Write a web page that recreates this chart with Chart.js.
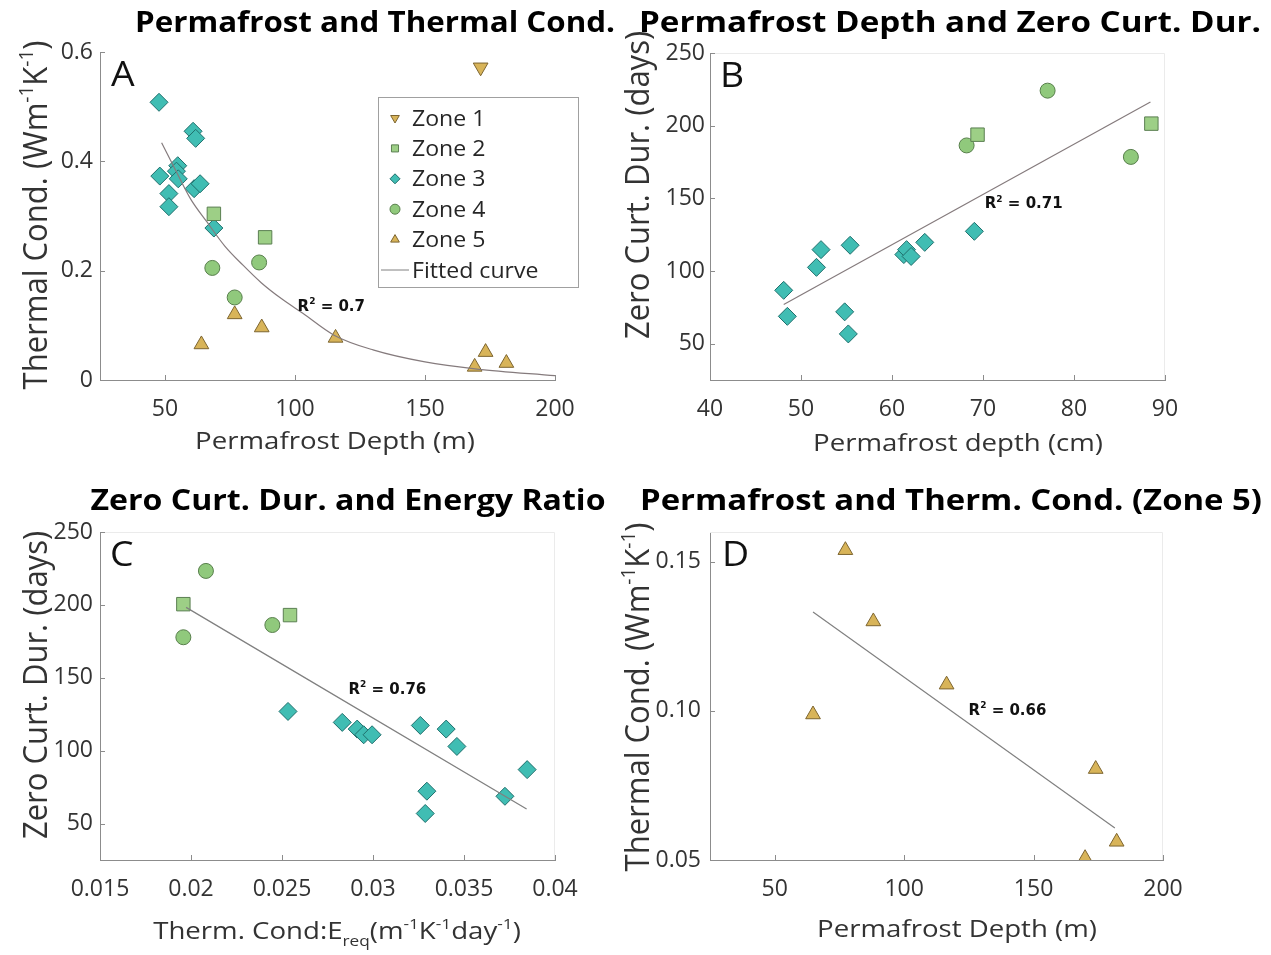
<!DOCTYPE html>
<html>
<head>
<meta charset="utf-8">
<script src="https://cdn.jsdelivr.net/npm/chart.js@4.4.1/dist/chart.umd.min.js"></script>
<style>
  body { margin: 0; background: #fff; width: 1271px; height: 955px; position: relative; overflow: hidden; }
  .pane { position: absolute; }
</style>
</head>
<body>
<div class="pane" style="left:0;top:0;width:640px;height:477px"><canvas id="chartA"></canvas></div>
<div class="pane" style="left:600px;top:0;width:671px;height:477px"><canvas id="chartB"></canvas></div>
<div class="pane" style="left:0;top:477px;width:640px;height:478px"><canvas id="chartC"></canvas></div>
<div class="pane" style="left:600px;top:477px;width:671px;height:478px"><canvas id="chartD"></canvas></div>
<script>
// --- panel A: permafrost depth (m) vs thermal conductivity
const aZone1 = [[171.4, 0.572]];
const aZone2 = [[68.8, 0.304], [88.5, 0.261]];
const aZone3 = [[47.7, 0.508], [60.8, 0.455], [61.8, 0.442], [48.0, 0.373], [54.9, 0.392], [54.4, 0.382],
                [55.1, 0.368], [51.5, 0.341], [51.5, 0.317], [61.2, 0.350], [63.5, 0.359], [68.8, 0.278]];
const aZone4 = [[68.2, 0.205], [86.2, 0.215], [76.8, 0.151]];
const aZone5 = [[64.0, 0.065], [76.8, 0.120], [87.2, 0.096], [115.6, 0.077], [173.3, 0.051], [169.1, 0.024], [181.3, 0.031]];
const aCurve = [[48.7, 0.434], [55, 0.375], [60, 0.33], [66, 0.29], [73, 0.245], [80, 0.21], [87, 0.178],
                [95, 0.148], [103, 0.122], [115, 0.082], [130, 0.055], [150, 0.033], [170, 0.02], [200, 0.008]];
const aXTicks = [50, 100, 150, 200];
const aYTicks = [0, 0.2, 0.4, 0.6];
const aYLabels = ['0', '0.2', '0.4', '0.6'];

// --- panel B: permafrost depth (cm) vs zero curtain duration
const bZone2 = [[69.4, 193.8], [88.5, 201.4]];
const bZone3 = [[48.1, 86.7], [48.5, 68.8], [51.7, 102.5], [52.2, 114.7], [54.8, 71.9], [55.4, 117.7],
                [55.2, 56.7], [61.3, 111.3], [61.6, 114.7], [62.1, 110], [63.6, 119.7], [69.05, 127.3]];
const bZone4 = [[68.2, 186.4], [77.1, 224.1], [86.25, 178.5]];
const bFit = [[48.1, 76.9], [88.4, 216.3]];
const bXTicks = [40, 50, 60, 70, 80, 90];
const bYTicks = [50, 100, 150, 200, 250];

// --- panel C: energy ratio vs zero curtain duration
const cZone2 = [[0.01958, 200.5], [0.02544, 193]];
const cZone3 = [[0.02533, 126.9], [0.02831, 119.4], [0.02913, 114.8], [0.02949, 110.9], [0.02995, 110.9], [0.0326, 117.3],
                [0.03402, 114.8], [0.03461, 102.9], [0.03296, 72.2], [0.03287, 56.9], [0.03725, 68.7], [0.03847, 87]];
const cZone4 = [[0.02082, 223.3], [0.01958, 177.8], [0.02447, 186.2]];
const cFit = [[0.01973, 198.3], [0.03844, 60]];
const cXTicks = [0.015, 0.02, 0.025, 0.03, 0.035, 0.04];
const cXLabels = ['0.015', '0.02', '0.025', '0.03', '0.035', '0.04'];

// --- panel D: zone 5 only
const dZone5 = [[64.8, 0.0988], [77.3, 0.1539], [88.1, 0.130], [116.4, 0.1088], [174, 0.0805], [182.1, 0.0561], [169.9, 0.0506]];
const dFit = [[64.8, 0.1332], [181.4, 0.0607]];
const dXTicks = [50, 100, 150, 200];
const dYTicks = [0.05, 0.10, 0.15];
const dYLabels = ['0.05', '0.10', '0.15'];

const SANS = '"Open Sans", sans-serif';
const TXT = '#262626';

const STYLE = {
  zone1: { shape: 'triangle', rot: 180, r: 8.5, bg: '#d8b459', bd: '#7d6530' },
  zone2: { shape: 'rect', r: 9.5, bg: '#9dcf86', bd: '#5b7f52' },
  zone3: { shape: 'rectRot', r: 9, bg: '#40bdb3', bd: '#1f6f6c' },
  zone4: { shape: 'circle', r: 7.5, bg: '#90c97c', bd: '#587f4c' },
  zone5: { shape: 'triangle', r: 8.5, bg: '#d8b459', bd: '#7d6530' }
};

// text with superscript / subscript pieces: [text, 'sup' | 'sub' | undefined]
function drawRich(ctx, parts, x, y, o) {
  const fam = o.family || SANS, wt = o.weight || 'normal', fs = o.size;
  const fonts = parts.map(p => `${wt} ${p[1] ? Math.round(fs * 0.62) : fs}px ${fam}`);
  let total = 0;
  const widths = parts.map((p, i) => {
    ctx.font = fonts[i];
    const w = ctx.measureText(p[0]).width;
    total += w;
    return w;
  });
  let sx = o.sx || 1;
  if (o.fitWidth) sx = o.fitWidth / total;
  ctx.save();
  ctx.translate(x, y);
  if (o.rotate) ctx.rotate(-Math.PI / 2);
  ctx.scale(sx, o.sy || 1);
  ctx.fillStyle = o.color || TXT;
  ctx.textAlign = 'left';
  ctx.textBaseline = 'alphabetic';
  let cx = o.align === 'left' ? 0 : -total / 2;
  const base = fs * 0.36;
  parts.forEach((p, i) => {
    ctx.font = fonts[i];
    const dy = p[1] === 'sup' ? -fs * 0.42 : p[1] === 'sub' ? fs * 0.3 : 0;
    ctx.fillText(p[0], cx, base + dy);
    cx += widths[i];
  });
  ctx.restore();
}

function marker(ctx, st, x, y, r) {
  ctx.fillStyle = st.bg;
  ctx.strokeStyle = st.bd;
  ctx.lineWidth = 1;
  Chart.helpers.drawPoint(ctx, { pointStyle: st.shape, rotation: st.rot || 0, radius: r, borderWidth: 1 }, x, y);
}

const decor = {
  id: 'decor',
  afterDraw(chart, args, o) {
    const { ctx, chartArea: ca } = chart;
    const x = chart.scales.x, y = chart.scales.y;
    ctx.save();
    if (o.box) {
      ctx.strokeStyle = '#ebebeb';
      ctx.lineWidth = 1;
      ctx.beginPath();
      ctx.moveTo(ca.left, ca.top + 0.5);
      ctx.lineTo(ca.right - 0.5, ca.top + 0.5);
      ctx.lineTo(ca.right - 0.5, ca.bottom);
      ctx.stroke();
    }
    // inward tick marks, matlab style
    ctx.strokeStyle = '#8c8c8c';
    ctx.lineWidth = 1;
    ctx.beginPath();
    x.ticks.forEach(t => {
      const px = Math.round(x.getPixelForValue(t.value)) + 0.5;
      ctx.moveTo(px, ca.bottom);
      ctx.lineTo(px, ca.bottom - 5);
    });
    y.ticks.forEach(t => {
      const py = Math.round(y.getPixelForValue(t.value)) + 0.5;
      ctx.moveTo(ca.left, py);
      ctx.lineTo(ca.left + 5, py);
    });
    ctx.stroke();

    drawRich(ctx, [[o.title]], o.titlePos[0], o.titlePos[1], { size: 28, weight: 'bold', color: '#000', fitWidth: o.titleW });
    drawRich(ctx, [[o.letter]], ca.left + o.letterOff[0], ca.top + o.letterOff[1], { size: 34, align: 'left', color: '#111', sx: 1.1 });
    drawRich(ctx, o.xTitle, o.xTitlePos[0], o.xTitlePos[1], { size: 24, sx: 1.15, color: '#333' });
    drawRich(ctx, o.yTitle, o.yTitlePos[0], o.yTitlePos[1], { size: 31, rotate: true, color: '#333', sy: 1.08 });
    drawRich(ctx, [['R'], ['2', 'sup'], [' = ' + o.r2[2]]],
      x.getPixelForValue(o.r2[0]), y.getPixelForValue(o.r2[1]),
      { size: 15, weight: 'bold', family: '"DejaVu Sans", sans-serif', align: 'left', color: '#111' });

    if (o.legend) {
      const [x1, y1, x2, y2] = o.legend.box;
      ctx.fillStyle = '#fff';
      ctx.fillRect(x1, y1, x2 - x1, y2 - y1);
      ctx.strokeStyle = '#a0a0a0';
      ctx.strokeRect(x1 + 0.5, y1 + 0.5, x2 - x1, y2 - y1);
      o.legend.rows.forEach((row, i) => {
        const ry = y1 + 21 + i * 30.4;
        if (row[0] === 'line') {
          ctx.strokeStyle = '#808080';
          ctx.beginPath();
          ctx.moveTo(x1 + 3, ry);
          ctx.lineTo(x1 + 31, ry);
          ctx.stroke();
        } else {
          marker(ctx, STYLE[row[0]], x1 + 17, ry, 5);
        }
        drawRich(ctx, [[row[1]]], x1 + 34, ry, { size: 21, align: 'left', sx: 1.1, color: TXT });
      });
    }
    ctx.restore();
  }
};

function axis(min, max, vals, labels, fit, pad) {
  return {
    type: 'linear', min, max,
    afterBuildTicks: s => { s.ticks = vals.map(v => ({ value: v })); },
    afterFit: fit,
    ticks: {
      callback: v => labels[vals.indexOf(v)],
      color: '#333', font: { family: SANS, size: 23 }, padding: pad,
      autoSkip: false, maxRotation: 0
    },
    grid: { drawOnChartArea: false, drawTicks: false },
    border: { color: '#8c8c8c', width: 1 }
  };
}

function makePanel(id, p) {
  const el = document.getElementById(id);
  const W = el.parentNode.clientWidth, H = el.parentNode.clientHeight;
  const [L, T, R, B] = p.area;
  const datasets = p.series.map(s => {
    const st = STYLE[s.zone];
    return {
      label: s.name, data: s.data.map(([x, y]) => ({ x, y })),
      pointStyle: st.shape, rotation: st.rot || 0, pointRadius: st.r,
      backgroundColor: st.bg, borderColor: st.bd, borderWidth: 1, order: 1
    };
  });
  datasets.push({
    label: 'Fitted curve', data: p.fit.map(([x, y]) => ({ x, y })),
    showLine: true, pointRadius: 0, borderColor: p.fitColor, borderWidth: 1.2,
    cubicInterpolationMode: 'monotone', fill: false, order: -1
  });
  return new Chart(el, {
    type: 'scatter',
    data: { datasets },
    options: {
      responsive: true, maintainAspectRatio: false, animation: false, devicePixelRatio: 1,
      layout: { padding: { left: 0, top: T, right: W - R, bottom: 0 } },
      scales: {
        x: axis(p.x[0], p.x[1], p.x[2], p.x[3], s => { s.height = H - B; }, 16),
        y: axis(p.y[0], p.y[1], p.y[2], p.y[3], s => { s.width = L; }, p.yPad)
      },
      plugins: { legend: { display: false }, tooltip: { enabled: false }, decor: p.decor }
    },
    plugins: [decor]
  });
}

const yThermal = [['Thermal Cond. (Wm'], ['-1', 'sup'], ['K'], ['-1', 'sup'], [')']];
const yZero = [['Zero Curt. Dur. (days)']];

makePanel('chartA', {
  area: [100, 52, 555, 380],
  series: [
    { name: 'Zone 1', zone: 'zone1', data: aZone1 },
    { name: 'Zone 2', zone: 'zone2', data: aZone2 },
    { name: 'Zone 3', zone: 'zone3', data: aZone3 },
    { name: 'Zone 4', zone: 'zone4', data: aZone4 },
    { name: 'Zone 5', zone: 'zone5', data: aZone5 }
  ],
  fit: aCurve, fitColor: '#857b7d',
  x: [25, 200, aXTicks, aXTicks.map(String)],
  y: [0, 0.6, aYTicks, aYLabels], yPad: 7,
  decor: {
    title: 'Permafrost and Thermal Cond.', titlePos: [375, 22], titleW: 480,
    letter: 'A', letterOff: [11, 22],
    xTitle: [['Permafrost Depth (m)']], xTitlePos: [335, 440],
    yTitle: yThermal, yTitlePos: [35, 215],
    r2: [101, 0.137, '0.7'],
    legend: {
      box: [378, 97, 578, 287],
      rows: [['zone1', 'Zone 1'], ['zone2', 'Zone 2'], ['zone3', 'Zone 3'], ['zone4', 'Zone 4'], ['zone5', 'Zone 5'], ['line', 'Fitted curve']]
    }
  }
});

makePanel('chartB', {
  area: [110, 53, 565, 380],
  series: [
    { name: 'Zone 2', zone: 'zone2', data: bZone2 },
    { name: 'Zone 3', zone: 'zone3', data: bZone3 },
    { name: 'Zone 4', zone: 'zone4', data: bZone4 }
  ],
  fit: bFit, fitColor: '#857b7d',
  x: [40, 90, bXTicks, bXTicks.map(String)],
  y: [25, 250, bYTicks, bYTicks.map(String)], yPad: 5,
  decor: {
    title: 'Permafrost Depth and Zero Curt. Dur.', titlePos: [350, 22], titleW: 622,
    letter: 'B', letterOff: [10, 22], box: true,
    xTitle: [['Permafrost depth (cm)']], xTitlePos: [358, 442],
    yTitle: yZero, yTitlePos: [37, 185],
    r2: [70.2, 146.8, '0.71']
  }
});

makePanel('chartC', {
  area: [100, 55, 555, 383],
  series: [
    { name: 'Zone 2', zone: 'zone2', data: cZone2 },
    { name: 'Zone 3', zone: 'zone3', data: cZone3 },
    { name: 'Zone 4', zone: 'zone4', data: cZone4 }
  ],
  fit: cFit, fitColor: '#808080',
  x: [0.015, 0.04, cXTicks, cXLabels],
  y: [25, 250, bYTicks, bYTicks.map(String)], yPad: 7,
  decor: {
    title: 'Zero Curt. Dur. and Energy Ratio', titlePos: [348, 23], titleW: 515,
    letter: 'C', letterOff: [10, 22], box: true,
    xTitle: [['Therm. Cond:E'], ['req', 'sub'], ['(m'], ['-1', 'sup'], ['K'], ['-1', 'sup'], ['day'], ['-1', 'sup'], [')']],
    xTitlePos: [337, 453],
    yTitle: yZero, yTitlePos: [35, 208],
    r2: [0.02865, 142.9, '0.76']
  }
});

makePanel('chartD', {
  area: [110, 55, 563, 383],
  series: [{ name: 'Zone 5', zone: 'zone5', data: dZone5 }],
  fit: dFit, fitColor: '#808080',
  x: [25, 200, dXTicks, dXTicks.map(String)],
  y: [0.05, 0.16, dYTicks, dYLabels], yPad: 9,
  decor: {
    title: 'Permafrost and Therm. Cond. (Zone 5)', titlePos: [351, 23], titleW: 622,
    letter: 'D', letterOff: [12, 22], box: true,
    xTitle: [['Permafrost Depth (m)']], xTitlePos: [357, 451],
    yTitle: yThermal, yTitlePos: [37, 220],
    r2: [124.9, 0.1006, '0.66']
  }
});
</script>
</body>
</html>
